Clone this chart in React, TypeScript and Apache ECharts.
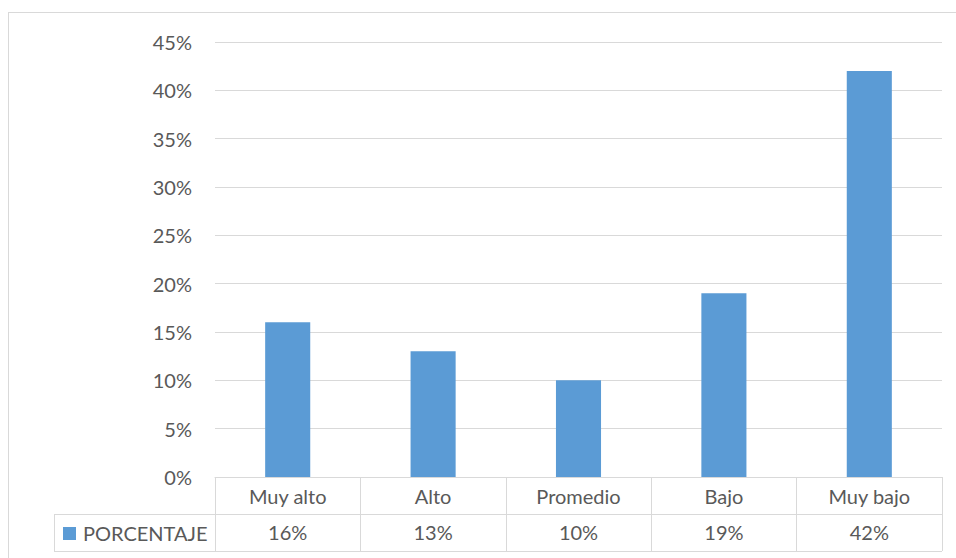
import React, { useEffect, useRef } from "react";
import * as echarts from "echarts";

const categories = ["Muy alto", "Alto", "Promedio", "Bajo", "Muy bajo"];
const values = [0.16, 0.13, 0.1, 0.19, 0.42];
const seriesName = "PORCENTAJE";
const yMax = 0.45;
const yStep = 0.05;

const FONT = "Lato, 'Open Sans', sans-serif";
const TEXT = "#595959";
const LINE = "#d9d9d9";
const BAR = "#5b9bd5";
const FS = 20;

const W = 956;
const H = 558;
const GRID_L = 215;
const GRID_R = 942;
const GRID_T = 42;
const GRID_B = 477;
const ROW = 37;
const TABLE_L = 54;

const pct = (v: number) => Math.round(v * 100) + "%";

export default function App() {
  const ref = useRef<HTMLDivElement>(null);
  useEffect(() => {
    document.body.style.margin = "0";
    const chart = echarts.init(ref.current!, undefined, { renderer: "svg" });
    chart.setOption({
      animation: false,
      backgroundColor: "#ffffff",
      grid: { left: GRID_L, right: W - GRID_R, top: GRID_T, bottom: H - GRID_B, containLabel: false },
      xAxis: [
        {
          type: "category",
          data: categories,
          position: "bottom",
          axisLine: { show: true, lineStyle: { color: LINE, width: 1 } },
          axisTick: { show: true, alignWithLabel: false, length: ROW * 2, lineStyle: { color: LINE, width: 1 } },
          axisLabel: { color: TEXT, fontSize: FS, fontFamily: FONT, margin: 9 },
        },
        {
          type: "category",
          data: values.map(pct),
          position: "bottom",
          offset: ROW,
          axisLine: { show: false },
          axisTick: { show: false },
          axisLabel: { color: TEXT, fontSize: FS, fontFamily: FONT, margin: 8 },
        },
      ],
      yAxis: {
        type: "value",
        min: 0,
        max: yMax,
        interval: yStep,
        axisLine: { show: false },
        axisTick: { show: false },
        splitLine: { show: true, lineStyle: { color: LINE, width: 1 } },
        axisLabel: {
          color: TEXT,
          fontSize: FS,
          fontFamily: FONT,
          margin: 23,
          formatter: (v: number) => Math.round(v * 100) + "%",
        },
      },
      series: [
        {
          name: seriesName,
          type: "bar",
          data: values,
          barWidth: "31%",
          itemStyle: { color: BAR },
        },
      ],
      graphic: [
        {
          type: "line",
          shape: { x1: 8.5, y1: 12.5, x2: 8.5, y2: H },
          style: { stroke: LINE, lineWidth: 1 },
        },
        {
          type: "line",
          shape: { x1: 8, y1: 12.5, x2: W, y2: 12.5 },
          style: { stroke: LINE, lineWidth: 1 },
        },
        {
          type: "line",
          shape: { x1: TABLE_L, y1: GRID_B + ROW + 0.5, x2: GRID_R, y2: GRID_B + ROW + 0.5 },
          style: { stroke: LINE, lineWidth: 1 },
        },
        {
          type: "line",
          shape: { x1: TABLE_L, y1: GRID_B + ROW * 2 + 0.5, x2: GRID_R, y2: GRID_B + ROW * 2 + 0.5 },
          style: { stroke: LINE, lineWidth: 1 },
        },
        {
          type: "line",
          shape: { x1: TABLE_L + 0.5, y1: GRID_B + ROW, x2: TABLE_L + 0.5, y2: GRID_B + ROW * 2 },
          style: { stroke: LINE, lineWidth: 1 },
        },
        {
          type: "rect",
          shape: { x: 63, y: 527, width: 13, height: 13 },
          style: { fill: BAR },
        },
        {
          type: "text",
          x: 83,
          y: GRID_B + ROW * 1.5,
          style: {
            text: seriesName,
            fill: TEXT,
            fontSize: FS,
            fontFamily: FONT,
            verticalAlign: "middle",
            align: "left",
          },
        },
      ],
    });
    return () => chart.dispose();
  }, []);
  return <div ref={ref} style={{ width: W, height: H }} />;
}
